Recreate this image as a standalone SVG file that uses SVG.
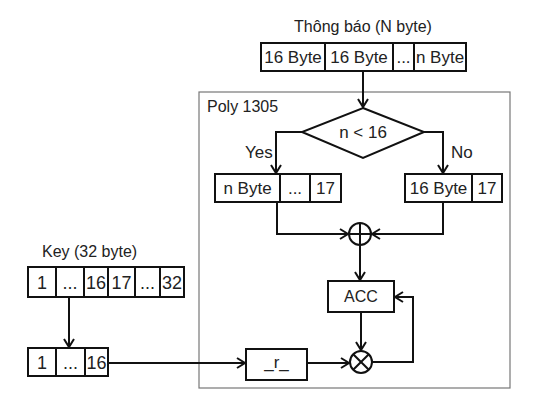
<svg xmlns="http://www.w3.org/2000/svg" width="546" height="412" viewBox="0 0 546 412">
<defs>
<style>
.t{font-family:"Liberation Sans",Arial,sans-serif;font-size:16px;fill:#222}
.s{font-size:17px}
.k{font-size:18px}
.c{text-anchor:middle}
.b{fill:#fff;stroke:#111;stroke-width:2}
.l{fill:none;stroke:#111;stroke-width:2}
.a{fill:none;stroke:#111;stroke-width:2;marker-end:url(#ar)}
</style>
<marker id="ar" viewBox="0 0 12 12" refX="10" refY="6" markerWidth="12" markerHeight="12" markerUnits="userSpaceOnUse" orient="auto">
<path d="M2,1 L10,6 L2,11" fill="none" stroke="#111" stroke-width="2"/>
</marker>
</defs>
<rect width="546" height="412" fill="#fff"/>
<g id="poly">
<rect x="199" y="92" width="311" height="296" fill="none" stroke="#777" stroke-width="1.2"/>
<text class="t" x="207" y="112">Poly 1305</text>
</g>
<g id="message">
<text class="t c" x="363" y="32">Thông báo (N byte)</text>
<rect class="b" x="261" y="43" width="205" height="28"/>
<line class="l" x1="325" y1="43" x2="325" y2="71"/>
<line class="l" x1="393" y1="43" x2="393" y2="71"/>
<line class="l" x1="414" y1="43" x2="414" y2="71"/>
<text class="t s c" x="293" y="63">16 Byte</text>
<text class="t s c" x="359" y="63">16 Byte</text>
<text class="t s c" x="403.5" y="63">...</text>
<text class="t s c" x="440" y="63">n Byte</text>
</g>
<g id="decision">
<polygon class="b" points="363,108 424,132 363,158 302,132"/>
<text class="t s c" x="363" y="138">n &lt; 16</text>
</g>
<g id="left-block">
<rect class="b" x="215" y="174" width="126" height="28"/>
<line class="l" x1="280" y1="174" x2="280" y2="202"/>
<line class="l" x1="310" y1="174" x2="310" y2="202"/>
<text class="t s c" x="247.5" y="194">n Byte</text>
<text class="t s c" x="295" y="194">...</text>
<text class="t s c" x="325.5" y="194">17</text>
</g>
<g id="right-block">
<rect class="b" x="405" y="174" width="97" height="28"/>
<line class="l" x1="472" y1="174" x2="472" y2="202"/>
<text class="t s c" x="438.5" y="194">16 Byte</text>
<text class="t s c" x="487" y="194">17</text>
</g>
<g id="xor">
<circle class="b" cx="360" cy="234" r="11"/>
<line class="l" x1="349" y1="234" x2="371" y2="234"/>
<line class="l" x1="360" y1="223" x2="360" y2="245"/>
</g>
<g id="acc">
<rect class="b" x="328" y="281" width="66" height="31"/>
<text class="t c" x="361" y="302">ACC</text>
</g>
<g id="mul">
<circle class="b" cx="361" cy="362" r="11"/>
<line class="l" x1="353.2" y1="354.2" x2="368.8" y2="369.8"/>
<line class="l" x1="353.2" y1="369.8" x2="368.8" y2="354.2"/>
</g>
<g id="r">
<rect class="b" x="246" y="349" width="61" height="31"/>
<text class="t s c" x="276.5" y="368">_r_</text>
</g>
<g id="key">
<text class="t" x="42" y="257">Key (32 byte)</text>
<rect class="b" x="28" y="267" width="80" height="30"/>
<rect class="b" x="108" y="267" width="76" height="30"/>
<line class="l" x1="56" y1="267" x2="56" y2="297"/>
<line class="l" x1="84" y1="267" x2="84" y2="297"/>
<line class="l" x1="135" y1="267" x2="135" y2="297"/>
<line class="l" x1="160" y1="267" x2="160" y2="297"/>
<text class="t k c" x="42" y="289">1</text>
<text class="t k c" x="70" y="289">...</text>
<text class="t k c" x="96" y="289">16</text>
<text class="t k c" x="121.5" y="289">17</text>
<text class="t k c" x="147.5" y="289">...</text>
<text class="t k c" x="172" y="289">32</text>
</g>
<g id="key-half">
<rect class="b" x="28" y="348" width="80" height="28"/>
<line class="l" x1="56" y1="348" x2="56" y2="376"/>
<line class="l" x1="85" y1="348" x2="85" y2="376"/>
<text class="t k c" x="42" y="369">1</text>
<text class="t k c" x="70.5" y="369">...</text>
<text class="t k c" x="96.5" y="369">16</text>
</g>
<g id="connectors">
<path class="a" d="M363,71 V107"/>
<path class="a" d="M302,132 H276 V173"/>
<path class="a" d="M424,132 H443 V173"/>
<text class="t s" x="245" y="158">Yes</text>
<text class="t s" x="451" y="158">No</text>
<path class="a" d="M277,202 V234 H348"/>
<path class="a" d="M443,202 V234 H372"/>
<path class="a" d="M360,245 V280"/>
<path class="a" d="M361,312 V350"/>
<path class="a" d="M372,362 H413 V297 H395"/>
<path class="a" d="M307,363 H349"/>
<path class="a" d="M108,363 H245"/>
<path class="a" d="M69,297 V347"/>
</g>
</svg>
